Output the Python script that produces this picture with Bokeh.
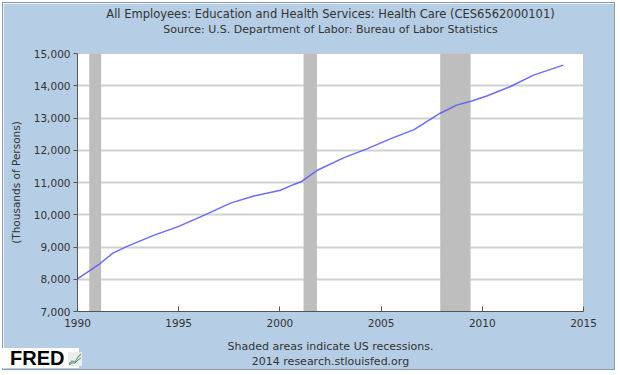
from bokeh.plotting import figure
from bokeh.layouts import column
from bokeh.models import (Title, BoxAnnotation, NumeralTickFormatter, FixedTicker,
                          Range1d, Div)
from bokeh.embed import file_html
from bokeh.resources import INLINE

# ---- data ----
years = [1990.0, 1991.1, 1991.75, 1992.45, 1993.76, 1995.0, 1996.24, 1997.56,
         1998.71, 2000.03, 2000.69, 2001.1, 2001.85, 2003.17, 2004.33, 2005.48,
         2006.63, 2007.9, 2008.73, 2009.44, 2010.22, 2011.37, 2012.53, 2014.0]
employees = [8010, 8480, 8810, 9020, 9360, 9640, 9980, 10360,
             10580, 10760, 10940, 11040, 11380, 11770, 12050, 12360,
             12640, 13140, 13400, 13520, 13680, 13970, 14330, 14640]
recession_start = [1990.58, 2001.17, 2007.92]
recession_end = [1991.17, 2001.83, 2009.42]
x_ticks = [1990, 1995, 2000, 2005, 2010, 2015]
y_ticks = [7000, 8000, 9000, 10000, 11000, 12000, 13000, 14000, 15000]

title_line1 = "All Employees: Education and Health Services: Health Care (CES6562000101)"
title_line2 = "Source: U.S. Department of Labor: Bureau of Labor Statistics"
foot_line1 = "Shaded areas indicate US recessions."
foot_line2 = "2014 research.stlouisfed.org"
y_label = "(Thousands of Persons)"
logo_text = "FRED"

FONT = "DejaVu Sans"
PANEL = "#B6CEE5"
TXT = "#333333"

p = figure(width=611, height=366, output_backend="svg", toolbar_location=None,
           x_range=Range1d(1990, 2015), y_range=Range1d(7000, 15000),
           min_border_left=74, min_border_right=31, min_border_top=50,
           min_border_bottom=58)
p.margin = (3, 0, 0, 3)
p.styles = {"outline": "1px solid #8E9AA8"}
p.title = None
p.border_fill_color = PANEL
p.background_fill_color = "white"
p.outline_line_color = "#C8C8C8"
p.outline_line_width = 1

def add_title(text, side, size="11px", color=TXT, standoff=0):
    p.add_layout(Title(text=text, text_font=FONT, text_font_size=size,
                       text_font_style="normal", text_color=color, align="center",
                       offset=-12, standoff=standoff), side)

# titles (first added is nearest the frame); " " rows are spacers
add_title(" ", "above", size="11px", color=PANEL, standoff=3)
add_title(title_line2, "above")
add_title(title_line1, "above", size="11.5px")
add_title(" ", "below", size="5px", color=PANEL)
add_title(foot_line1, "below")
add_title(foot_line2, "below")

# grid
p.xgrid.grid_line_color = None
p.ygrid.grid_line_color = "#D2D2D2"
p.ygrid.grid_line_width = 2

# recessions
for s, e in zip(recession_start, recession_end):
    p.add_layout(BoxAnnotation(left=s, right=e, fill_color="#BEBEBE",
                               fill_alpha=1.0, line_color=None, level="underlay"))

# series
p.line(years, employees, line_color="#5B5BF5", line_width=1.5, line_alpha=0.9)

# axes
p.xaxis.ticker = FixedTicker(ticks=x_ticks)
p.yaxis.ticker = FixedTicker(ticks=y_ticks)
p.yaxis.formatter = NumeralTickFormatter(format="0,0")
for ax in (p.xaxis[0], p.yaxis[0]):
    ax.axis_line_color = "#555555"
    ax.major_tick_line_color = "#555555"
    ax.minor_tick_line_color = None
    ax.major_label_text_font = FONT
    ax.major_label_text_font_size = "10.5px"
    ax.major_label_text_color = TXT
p.xaxis.major_tick_in = 5
p.xaxis.major_tick_out = 0
p.xaxis.major_label_standoff = 7
p.yaxis.major_tick_in = 0
p.yaxis.major_tick_out = 4
p.yaxis.major_label_standoff = 3
p.yaxis.axis_label = y_label
p.yaxis.axis_label_text_font = FONT
p.yaxis.axis_label_text_font_size = "10.5px"
p.yaxis.axis_label_text_font_style = "normal"
p.yaxis.axis_label_text_color = TXT
p.yaxis.axis_label_standoff = 9

# FRED logo, overlapping the bottom-left corner of the panel
icon = ('<svg width="14" height="14" style="margin-left:4px;vertical-align:-1px">'
        '<rect x="0" y="0" width="14" height="14" fill="#E8EEF2"/>'
        '<polyline points="1,12 4,9 7,10 10,5 13,2" fill="none" stroke="#6FA85A" stroke-width="1.2"/>'
        '<polyline points="1,13 4,11 7,11 10,8 13,6" fill="none" stroke="#5B7FC0" stroke-width="1"/>'
        '</svg>')
logo = Div(text=('<div style="background:white;width:77px;height:20px;padding-left:8px;'
                 'font-family:\'Liberation Sans\';font-weight:bold;font-size:20px;'
                 'line-height:21px;color:black;white-space:nowrap">'
                 + logo_text + icon + '</div>'),
           width=85, height=20, margin=(-21, 0, 0, 2))

layout = column(p, logo, spacing=0)
open("out.html", "w").write(file_html(layout, INLINE))
